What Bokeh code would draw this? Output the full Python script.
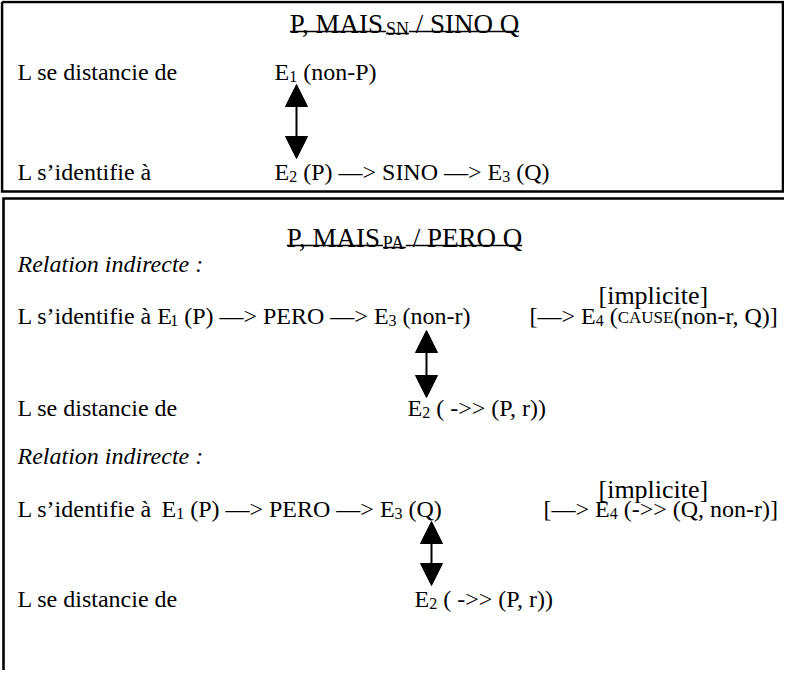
import re
from bokeh.plotting import figure
from bokeh.models import ColumnDataSource, Range1d, Arrow, NormalHead
from bokeh.core.properties import value
from bokeh.embed import file_html
from bokeh.resources import INLINE

FONT = "Liberation Serif"

# ---- texts (runs: text, style) ----
title_sn = [("P, MAIS", "n"), ("SN", "sub"), (" / SINO Q", "n")]
title_pa = [("P, MAIS", "n"), ("PA", "sub"), (" / PERO Q", "n")]
lbl_dist = [("L se distancie de", "n")]
lbl_ident = [("L s\u2019identifie \u00e0", "n")]
sn_e1 = [("E", "n"), ("1", "sub"), (" (non-P)", "n")]
sn_e2 = [("E", "n"), ("2", "sub"), (" (P) \u2014> SINO \u2014> E", "n"), ("3", "sub"), (" (Q)", "n")]
rel_ind = "Relation indirecte :"
implicite = [("[implicite]", "n")]
pa1_row = [("L s\u2019identifie \u00e0 E", "n"), ("1", "sub"), (" (P) \u2014> PERO \u2014> E", "n"),
           ("3", "sub"), (" (non-r)", "n")]
pa1_e4 = [("[\u2014> E", "n"), ("4", "sub"), (" (", "n"), ("CAUSE", "sc"), ("(non-r, Q)]", "n")]
pa_e2 = [("E", "n"), ("2", "sub"), (" ( ->> (P, r))", "n")]
pa2_row = [("L s\u2019identifie \u00e0  E", "n"), ("1", "sub"), (" (P) \u2014> PERO \u2014> E", "n"),
           ("3", "sub"), (" (Q)", "n")]
pa2_e4 = [("[\u2014> E", "n"), ("4", "sub"), (" (->> (Q, non-r)]", "n")]

# Times / Liberation Serif advance widths (1/1000 em)
W = {' ': 250, ',': 250, '(': 333, ')': 333, '-': 333, '/': 278, '>': 564, '[': 333, ']': 333,
     ':': 278, '\u2019': 333, '\u00e0': 444, '\u2014': 1000, '1': 500, '2': 500, '3': 500, '4': 500,
     'A': 722, 'C': 667, 'E': 611, 'I': 333, 'M': 889, 'N': 722, 'O': 722, 'P': 556, 'Q': 722,
     'R': 667, 'S': 556, 'U': 722, 'a': 444, 'c': 444, 'd': 500, 'e': 444, 'f': 333, 'i': 278,
     'l': 278, 'm': 778, 'n': 500, 'o': 500, 'p': 500, 'r': 333, 's': 389, 't': 278}

BODY = 24
TITLE = 27
IMPL = 26


def run_size(style, base):
    if style == "sub":
        return round(base * 0.66), base * 0.21
    if style == "sc":
        return round(base * 0.72), 1.5
    return base, 0


def tw(t, s):
    return sum(W.get(c, 500) for c in t) * s / 1000


def width(runs, base):
    return sum(tw(t, run_size(st, base)[0]) for t, st in runs)


groups = {}
underlines = dict(xs=[], ys=[])


def place(runs, x0, y0, base=BODY, center=False, underline=False):
    x = x0 - width(runs, base) / 2 if center else x0
    for t, st in runs:
        s, dy = run_size(st, base)
        xr = x
        # SVG collapses leading/trailing/double spaces: advance over them explicitly
        for piece in re.split(r"(^ +| +$| {2,})", t):
            if not piece:
                continue
            if piece.strip():
                g = groups.setdefault(s, dict(x=[], y=[], text=[]))
                g["x"].append(x)
                g["y"].append(y0 + dy)
                g["text"].append(piece)
            x += tw(piece, s)
        if underline:
            uy = y0 + 8 + (2 if st == "sub" else 0)
            underlines["xs"].append([xr, x])
            underlines["ys"].append([uy, uy])


# ---- layout (page pixel coordinates) ----
place(title_sn, 412, 31, TITLE, center=True, underline=True)
place(lbl_dist, 25, 79)
place(sn_e1, 282, 79)
place(lbl_ident, 25, 179)
place(sn_e2, 282, 179)

place(title_pa, 412, 245, TITLE, center=True, underline=True)
place(implicite, 606, 303, IMPL)
place(pa1_row, 25, 323)
place(pa1_e4, 537, 323)
place(lbl_dist, 25, 415)
place(pa_e2, 415, 415)
place(implicite, 606, 497, IMPL)
place(pa2_row, 25, 516)
place(pa2_e4, 551, 516)
place(lbl_dist, 25, 606)
place(pa_e2, 422, 606)

ital = dict(x=[25, 25], y=[271, 463], text=[rel_ind, rel_ind])

p = figure(width=784, height=670, x_range=Range1d(8, 792), y_range=Range1d(678, 8),
           output_backend="svg", toolbar_location=None, x_axis_type=None, y_axis_type=None,
           min_border=0)
p.grid.visible = False
p.outline_line_color = None
p.background_fill_color = "white"
p.border_fill_color = "white"

# boxes
p.multi_line(xs=[[9.5, 790.5, 790.5, 9.5, 9.5], [11, 11, 800]], ys=[[9.5, 9.5, 199, 199, 9.5], [700, 206, 206]],
             line_color="black", line_width=2.6, line_join="miter")

for size, g in groups.items():
    p.text(x="x", y="y", text="text", source=ColumnDataSource(g), text_font=value(FONT),
           text_font_size=f"{size}px", text_color="black", text_baseline="alphabetic", text_align="left")
p.text(x="x", y="y", text="text", source=ColumnDataSource(ital), text_font=value(FONT),
       text_font_size="24px", text_font_style="italic", text_color="black",
       text_baseline="alphabetic", text_align="left")
p.multi_line(xs="xs", ys="ys", source=ColumnDataSource(underlines), line_color="black", line_width=1.6)

# double arrows
for ax, y1, y2 in [(304, 92, 166), (434, 338, 405), (439, 529, 593)]:
    p.add_layout(Arrow(x_start=ax, y_start=y2, x_end=ax, y_end=y1, line_width=2, line_color="black",
                       start=NormalHead(size=22, fill_color="black", line_color="black"),
                       end=NormalHead(size=22, fill_color="black", line_color="black")))

open("out.html", "w").write(file_html(p, INLINE))
